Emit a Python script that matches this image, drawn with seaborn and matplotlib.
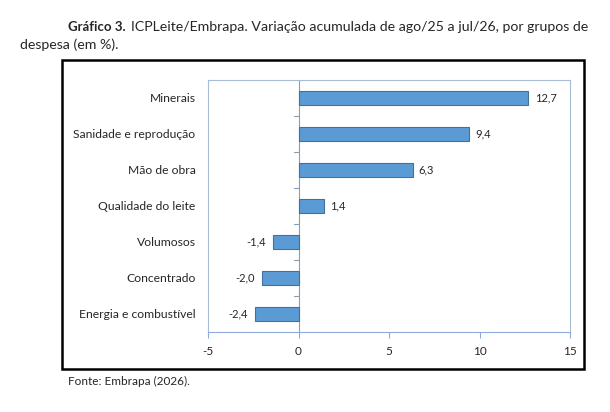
import matplotlib.pyplot as plt
import seaborn as sns
import pandas as pd
from matplotlib.patches import Rectangle

grupos = ["Minerais", "Sanidade e reprodução", "Mão de obra", "Qualidade do leite",
          "Volumosos", "Concentrado", "Energia e combustível"]
variacao = [12.7, 9.4, 6.3, 1.4, -1.4, -2.0, -2.4]
xticks = [-5, 0, 5, 10, 15]

df = pd.DataFrame({"grupo": grupos, "var": variacao})

sns.set_style("white")
plt.rcParams["font.family"] = ["Lato", "DejaVu Sans"]

fig = plt.figure(figsize=(6.1, 4.12), dpi=100)
ax = fig.add_axes([208 / 610, 80 / 412, 362 / 610, 252 / 412])

sns.barplot(data=df, x="var", y="grupo", orient="h", color="#5b9bd5",
            edgecolor="#41719c", linewidth=0.8, width=0.4, saturation=1, ax=ax)

ax.set_xlim(-5, 15)
ax.set_ylim(6.5, -0.5)
ax.set_xticks(xticks)
ax.set_xticklabels([str(t) for t in xticks], fontsize=8.5)
ax.set_xlabel("")
ax.set_ylabel("")
ax.tick_params(axis="y", length=0, labelsize=8.7, pad=9)
ax.tick_params(axis="x", length=4, color="#8faadc", width=0.8, pad=6, bottom=True)

for s in ax.spines.values():
    s.set_color("#a9bcd6")
    s.set_linewidth(0.8)
ax.spines["bottom"].set_color("#8faadc")

# eixo vertical em zero com marcas entre categorias
ax.axvline(0, color="#8c9bb0", lw=0.8, zorder=0)
for k in range(len(grupos) - 1):
    ax.plot([-0.25, 0], [k + 0.5, k + 0.5], color="#8c9bb0", lw=0.8, clip_on=False)

for i, v in enumerate(variacao):
    txt = f"{v:.1f}".replace(".", ",")
    if v >= 0:
        ax.text(v + 0.35, i, txt, va="center", ha="left", fontsize=8)
    else:
        ax.text(v - 0.4, i, txt, va="center", ha="right", fontsize=8)

fig.patches.append(Rectangle((62 / 610, 43 / 412), 522 / 610, 309 / 412,
                             transform=fig.transFigure, fill=False,
                             edgecolor="black", linewidth=1.8))

fig.text(68 / 610, 1 - 27 / 412, "Gráfico 3.", fontsize=9.5, fontweight="bold",
         va="center", ha="left")
fig.text(588 / 610, 1 - 27 / 412,
         "ICPLeite/Embrapa. Variação acumulada de ago/25 a jul/26, por grupos de",
         fontsize=10.15, va="center", ha="right")
fig.text(20 / 610, 1 - 45 / 412, "despesa (em %).", fontsize=10.15, va="center", ha="left")
fig.text(68 / 610, 1 - 381 / 412, "Fonte: Embrapa (2026).", fontsize=8.5,
         va="center", ha="left")

fig.savefig("out.png", dpi=100)
